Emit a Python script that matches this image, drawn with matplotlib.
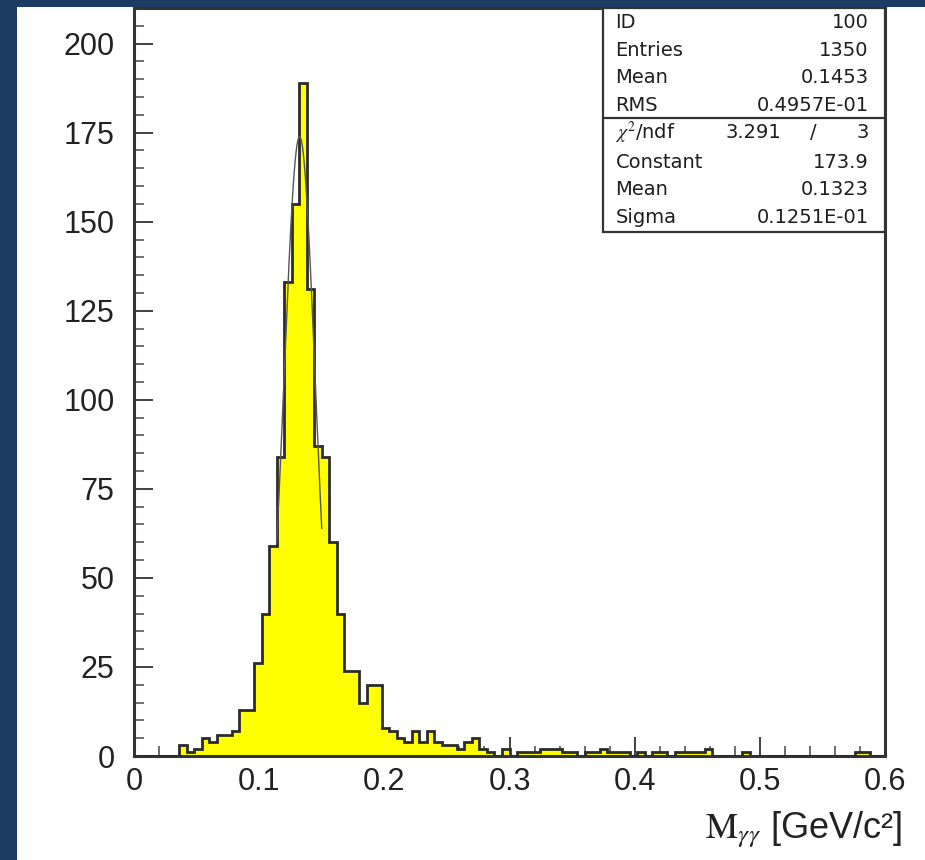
import numpy as np
import matplotlib
matplotlib.use("Agg")
import matplotlib.pyplot as plt
from matplotlib.patches import Rectangle

# Histogram of the two-photon invariant mass, 100 bins from 0 to 0.6 GeV/c^2
bin_low = 0.0
bin_high = 0.6
counts = [
    0, 0, 0, 0, 0, 0,
    3, 1, 2, 5, 4, 6, 6, 7,
    13, 13, 26, 40, 59, 84,
    133, 155, 189, 131, 87, 84,
    60, 40, 24, 24, 15, 20, 20,
    8, 7, 5, 4, 7, 4, 7, 4,
    3, 3, 2, 4, 5, 2, 1, 0,
    2, 0, 1, 1, 1, 2, 2, 2,
    1, 1, 0, 1, 1, 2, 1, 1,
    1, 0, 1, 0, 1, 1, 0, 1,
    1, 1, 1, 2, 0, 0, 0, 0,
    1, 0, 0, 0, 0, 0, 0, 0,
    0, 0, 0, 0, 0, 0, 0, 1,
    1, 0, 0,
]

# Gaussian fit parameters and fit range
fit_constant = 173.9
fit_mean = 0.1323
fit_sigma = 0.01251
fit_range = (0.114, 0.150)

# Statistics box
stat_labels = ["ID", "Entries", "Mean", "RMS"]
stat_values = ["100", "1350", "0.1453", "0.4957E-01"]
fit_labels = ["Constant", "Mean", "Sigma"]
fit_values = ["173.9", "0.1323", "0.1251E-01"]
chi2_text = ("3.291", "3")

x_ticks = [0, 0.1, 0.2, 0.3, 0.4, 0.5, 0.6]
x_tick_labels = ["0", "0.1", "0.2", "0.3", "0.4", "0.5", "0.6"]
y_ticks = [0, 25, 50, 75, 100, 125, 150, 175, 200]


def draw_stat_box(ax):
    """Draws the PAW style statistics box in the top right corner."""
    x0, y0 = 0.6245, 0.700
    ax.add_patch(Rectangle((x0, y0), 1 - x0, 1 - y0, transform=ax.transAxes,
                           facecolor="white", edgecolor="#333333", lw=1.6,
                           zorder=5, clip_on=False))
    ax.plot([x0, 1], [0.853, 0.853], transform=ax.transAxes,
            color="#333333", lw=1.6, zorder=6, clip_on=False)

    xl, xr = 0.641, 0.978
    rows = [0.9811, 0.9438, 0.9077, 0.8703, 0.8329, 0.7941, 0.7567, 0.7193]
    kw = dict(transform=ax.transAxes, fontsize=14, family="DejaVu Sans",
              color="#1e1e1e", va="center", zorder=7)
    for lab, val, y in zip(stat_labels, stat_values, rows[:4]):
        ax.text(xl, y, lab, ha="left", **kw)
        ax.text(xr, y, val, ha="right", **kw)

    ax.text(xl, rows[4], r"$\chi^2$/ndf", ha="left", **kw)
    ax.text(0.862, rows[4], chi2_text[0], ha="right", **kw)
    ax.text(0.905, rows[4], "/", ha="center", **kw)
    ax.text(xr, rows[4], chi2_text[1], ha="right", **kw)
    for lab, val, y in zip(fit_labels, fit_values, rows[5:]):
        ax.text(xl, y, lab, ha="left", **kw)
        ax.text(xr, y, val, ha="right", **kw)


def main():
    plt.rcParams["font.family"] = ["Liberation Sans", "DejaVu Sans"]
    plt.rcParams["mathtext.fontset"] = "stix"

    fig = plt.figure(figsize=(9.25, 8.6), dpi=100)
    # slide background peeking in at the left and top edges
    fig.patches.append(Rectangle((0, 0), 17 / 925, 1, transform=fig.transFigure,
                                 facecolor="#1b3d63", edgecolor="none", zorder=0))
    fig.patches.append(Rectangle((0, 1 - 7 / 860), 1, 7 / 860, transform=fig.transFigure,
                                 facecolor="#1b3d63", edgecolor="none", zorder=0))

    ax = fig.add_axes([134 / 925, 1 - 756 / 860, 751 / 925, 748 / 860])

    edges = np.linspace(bin_low, bin_high, len(counts) + 1)
    ax.stairs(counts, edges, fill=True, color="#ffff00", zorder=2)
    ax.stairs(counts, edges, color="#2b2b2b", lw=2, zorder=3)

    xf = np.linspace(fit_range[0], fit_range[1], 200)
    yf = fit_constant * np.exp(-0.5 * ((xf - fit_mean) / fit_sigma) ** 2)
    ax.plot(xf, yf, color="#555555", lw=1.0, zorder=4)

    ax.set_xlim(bin_low, bin_high)
    ax.set_ylim(0, 210)
    ax.set_xticks(x_ticks)
    ax.set_xticklabels(x_tick_labels)
    ax.set_xticks(np.arange(0, 0.6001, 0.02), minor=True)
    ax.set_yticks(y_ticks)
    ax.set_yticks(np.arange(0, 210, 5), minor=True)
    ax.tick_params(axis="both", which="major", direction="in", length=14,
                   width=1.3, labelsize=22, colors="#333333", labelcolor="#222222")
    ax.tick_params(axis="both", which="minor", direction="in", length=7,
                   width=1.2, colors="#555555")
    ax.tick_params(axis="x", which="major", pad=8)
    ax.tick_params(axis="y", which="major", pad=14)
    for sp in ax.spines.values():
        sp.set_linewidth(2.2)
        sp.set_color("#333333")

    draw_stat_box(ax)

    fig.text(902 / 925, 1 - 830 / 860, r"$\mathrm{M}_{\gamma\gamma}$ [GeV/c²]",
             ha="right", va="center", fontsize=26, color="#222222")

    fig.savefig("out.png", dpi=100)


if __name__ == "__main__":
    main()
